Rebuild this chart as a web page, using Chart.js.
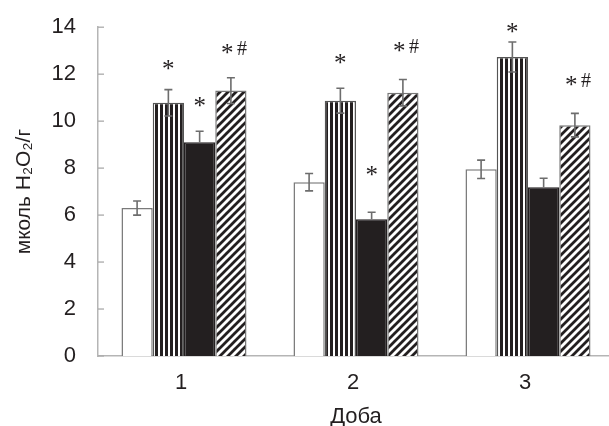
<!DOCTYPE html>
<html>
<head>
<meta charset="utf-8">
<script src="https://cdn.jsdelivr.net/npm/chart.js@4"></script>
<style>
  html, body { margin: 0; padding: 0; background: #fff; overflow: hidden; }
  #wrap { width: 609px; height: 426px; overflow: hidden; }
</style>
</head>
<body>
<div id="wrap"><canvas id="chart" width="614" height="426" style="width:614px;height:426px"></canvas></div>
<script>
// categories (days)
const days = ['1', '2', '3'];

// series values and their errors
const control = [6.3, 7.4, 7.95];
const controlErr = [0.3, 0.37, 0.39];
const seriesB = [10.78, 10.87, 12.73];
const seriesBErr = [0.56, 0.53, 0.64];
const seriesC = [9.1, 5.82, 7.18];
const seriesCErr = [0.47, 0.3, 0.39];
const seriesD = [11.3, 11.21, 9.83];
const seriesDErr = [0.55, 0.56, 0.5];

// significance marks and the level they sit at
const marksA = ['', '', ''];
const marksB = ['*', '*', '*'];
const marksC = ['*', '*', ''];
const marksD = ['* #', '* #', '* #'];
const markLevelA = [null, null, null];
const markLevelB = [12.4, 12.65, 13.96];
const markLevelC = [10.83, 7.87, null];
const markLevelD = [13.07, 13.16, 11.72];

// y axis ticks
const yTicks = [0, 2, 4, 6, 8, 10, 12, 14];

const DARK = '#231f20';

// Паттерн з вертикальними смугами
function stripePattern() {
    const c = document.createElement('canvas');
    c.width = 5; c.height = 5;
    const g = c.getContext('2d');
    g.fillStyle = '#fff';
    g.fillRect(0, 0, 5, 5);
    g.fillStyle = DARK;
    g.fillRect(0, 0, 3, 5);
    return g.createPattern(c, 'repeat');
}

// Паттерн з діагональним штрихуванням
function hatchPattern() {
    const s = 8;
    const c = document.createElement('canvas');
    c.width = s; c.height = s;
    const g = c.getContext('2d');
    g.fillStyle = '#fff';
    g.fillRect(0, 0, s, s);
    g.strokeStyle = DARK;
    g.lineWidth = 2.8;
    g.beginPath();
    g.moveTo(-2, s + 2); g.lineTo(s + 2, -2);
    g.moveTo(-2, 2); g.lineTo(2, -2);
    g.moveTo(s - 2, s + 2); g.lineTo(s + 2, s - 2);
    g.stroke();
    return g.createPattern(c, 'repeat');
}

const errorsAndMarks = {
    id: 'errorsAndMarks',
    afterDatasetsDraw(chart) {
        const ctx = chart.ctx;
        const y = chart.scales.y;
        chart.data.datasets.forEach((ds, i) => {
            const meta = chart.getDatasetMeta(i);
            meta.data.forEach((bar, j) => {
                const v = ds.data[j];
                const e = ds.err[j];
                const solid = ds.backgroundColor === DARK;
                const top = y.getPixelForValue(v + e);
                const bot = solid ? y.getPixelForValue(v) : y.getPixelForValue(v - e);
                ctx.save();
                ctx.strokeStyle = '#6d6d6d';
                ctx.lineWidth = 1.6;
                ctx.beginPath();
                ctx.moveTo(bar.x, top); ctx.lineTo(bar.x, bot);
                ctx.moveTo(bar.x - 4, top); ctx.lineTo(bar.x + 4, top);
                if (!solid) {
                    ctx.moveTo(bar.x - 4, bot); ctx.lineTo(bar.x + 4, bot);
                }
                ctx.stroke();
                const m = ds.marks[j];
                if (m) {
                    const py = y.getPixelForValue(ds.markLevel[j]);
                    ctx.fillStyle = DARK;
                    ctx.font = '25px "Liberation Serif"';
                    ctx.textBaseline = 'alphabetic';
                    if (m === '*') {
                        ctx.textAlign = 'center';
                        ctx.fillText('*', bar.x, py + 12);
                    } else {
                        ctx.textAlign = 'left';
                        ctx.fillText('*', bar.x - 10, py + 12);
                        ctx.font = '20px "Liberation Serif"';
                        ctx.fillText('#', bar.x + 6, py + 6);
                    }
                }
                ctx.restore();
            });
        });
        // inner tick marks on the y axis
        ctx.save();
        ctx.strokeStyle = '#aaaaaa';
        ctx.lineWidth = 1.3;
        y.ticks.forEach((t, k) => {
            const py = y.getPixelForTick(k);
            ctx.beginPath();
            ctx.moveTo(y.right, py); ctx.lineTo(y.right + 6, py);
            ctx.stroke();
        });
        ctx.restore();
    }
};

function makeSet(data, err, marks, level, fill, border) {
    return {
        data: data,
        err: err,
        marks: marks,
        markLevel: level,
        backgroundColor: fill,
        borderColor: border,
        borderWidth: 1.5,
        borderSkipped: 'bottom',
        categoryPercentage: 0.727,
        barPercentage: 1.0
    };
}

const chart = new Chart(document.getElementById('chart'), {
    type: 'bar',
    data: {
        labels: days,
        datasets: [
            makeSet(control, controlErr, marksA, markLevelA, '#ffffff', '#7a7a7a'),
            makeSet(seriesB, seriesBErr, marksB, markLevelB, stripePattern(), '#555555'),
            makeSet(seriesC, seriesCErr, marksC, markLevelC, DARK, DARK),
            makeSet(seriesD, seriesDErr, marksD, markLevelD, hatchPattern(), '#777777')
        ]
    },
    options: {
        responsive: false,
        animation: false,
        devicePixelRatio: 1,
        layout: { padding: { top: 25, left: 0, right: 0, bottom: 0 } },
        plugins: { legend: { display: false }, tooltip: { enabled: false } },
        scales: {
            x: {
                grid: { display: false },
                border: { display: true, color: '#b5b5b5', width: 1.5 },
                ticks: { color: DARK, font: { family: 'Liberation Sans', size: 22 }, padding: 6, labelOffset: -3 },
                title: {
                    display: true, text: 'Доба', color: DARK,
                    font: { family: 'Liberation Sans', size: 22 }, padding: { top: 8, bottom: -4 }
                },
                afterFit: s => { s.height = 70; }
            },
            y: {
                min: 0, max: 14,
                afterBuildTicks: s => { s.ticks = yTicks.map(v => ({ value: v })); },
                grid: { display: false },
                border: { display: true, color: '#b5b5b5', width: 1.5 },
                ticks: { color: DARK, font: { family: 'Liberation Sans', size: 22 }, padding: 14 },
                title: {
                    display: true, text: 'мколь H₂O₂/г', color: DARK,
                    font: { family: 'Liberation Sans', size: 21 }, padding: { top: 12, bottom: 0 }
                },
                afterFit: s => { s.width = 98; }
            }
        }
    },
    plugins: [errorsAndMarks]
});
</script>
</body>
</html>
